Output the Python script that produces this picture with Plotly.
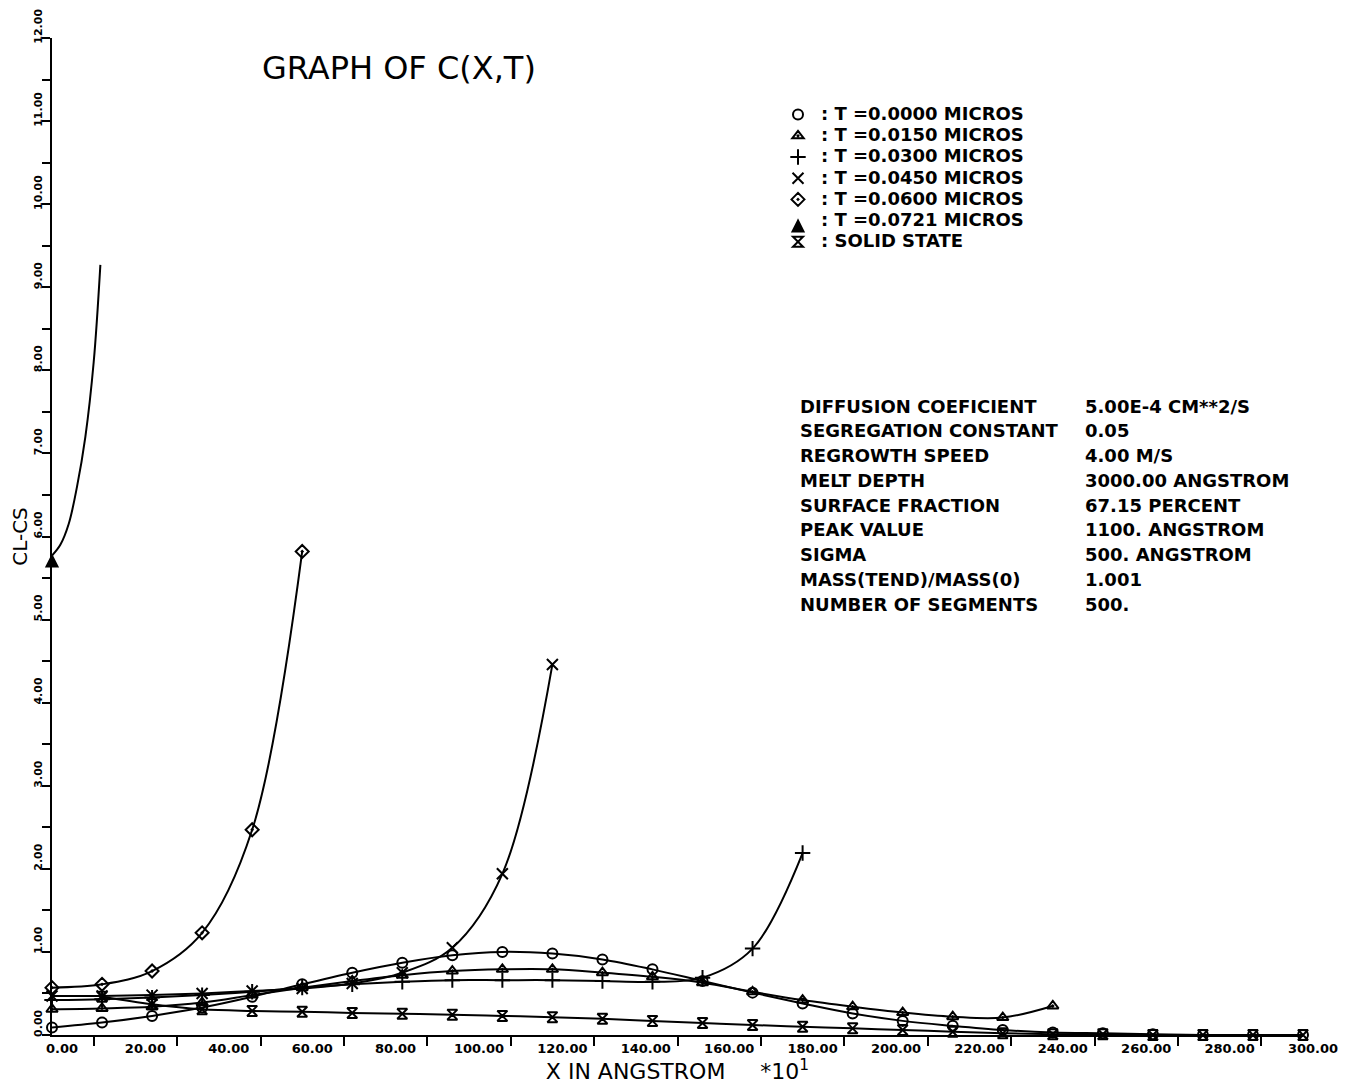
import plotly.graph_objects as go

# ---------------- data ----------------
X_MARK = [0, 12, 24, 36, 48, 60, 72, 84, 96, 108, 120, 132, 144, 156, 168,
          180, 192, 204, 216, 228, 240, 252, 264, 276, 288, 300]

# T = 0.0000 micros (circle), x = 0 .. 300
Y_T0000 = [0.09, 0.15, 0.23, 0.33, 0.46, 0.61, 0.75, 0.87, 0.96, 1.00, 0.98,
           0.91, 0.79, 0.65, 0.51, 0.38, 0.26, 0.17, 0.11, 0.06, 0.03, 0.02,
           0.01, 0.00, 0.00, 0.00]
# T = 0.0150 micros (triangle), x = 0 .. 240
Y_T0150 = [0.31, 0.32, 0.34, 0.39, 0.48, 0.57, 0.65, 0.72, 0.77, 0.79, 0.79,
           0.75, 0.70, 0.63, 0.52, 0.42, 0.34, 0.27, 0.22, 0.21, 0.35]
# T = 0.0300 micros (plus), x = 0 .. 180
Y_T0300 = [0.42, 0.43, 0.45, 0.48, 0.52, 0.57, 0.61, 0.64, 0.66, 0.66, 0.66,
           0.65, 0.64, 0.69, 1.04, 2.19]
# T = 0.0450 micros (x), x = 0 .. 120
Y_T0450 = [0.47, 0.47, 0.48, 0.50, 0.53, 0.56, 0.62, 0.75, 1.05, 1.94, 4.46]
# T = 0.0600 micros (diamond), x = 0 .. 60
Y_T0600 = [0.57, 0.61, 0.77, 1.23, 2.47, 5.82]
# T = 0.0721 micros (arrow), curve x = 0 .. 11.6, marker only at x = 0
X_T0721 = [0, 2, 4, 6, 8, 10, 11.6]
Y_T0721 = [5.77, 5.90, 6.15, 6.60, 7.20, 8.10, 9.27]
X_T0721_MARK = [0]
Y_T0721_MARK = [5.77]
# solid state (hourglass), x = 12 .. 300
Y_SOLID = [0.46, 0.37, 0.31, 0.29, 0.28, 0.265, 0.255, 0.245, 0.23, 0.215,
           0.195, 0.17, 0.145, 0.12, 0.10, 0.08, 0.06, 0.04, 0.02, 0.01,
           0.01, 0.00, 0.00, 0.00, 0.00]

SERIES_NAMES = [": T =0.0000 MICROS", ": T =0.0150 MICROS", ": T =0.0300 MICROS",
                ": T =0.0450 MICROS", ": T =0.0600 MICROS", ": T =0.0721 MICROS",
                ": SOLID STATE"]

X_TICKS = [0, 20, 40, 60, 80, 100, 120, 140, 160, 180, 200, 220, 240, 260, 280, 300]
X_TICK_TEXT = ["0.00", "20.00", "40.00", "60.00", "80.00", "100.00", "120.00",
               "140.00", "160.00", "180.00", "200.00", "220.00", "240.00",
               "260.00", "280.00", "300.00"]
X_MINOR = [10, 30, 50, 70, 90, 110, 130, 150, 170, 190, 210, 230, 250, 270, 290]
Y_TICKS = [0, 1, 2, 3, 4, 5, 6, 7, 8, 9, 10, 11, 12]
Y_TICK_TEXT = ["0.00", "1.00", "2.00", "3.00", "4.00", "5.00", "6.00", "7.00",
               "8.00", "9.00", "10.00", "11.00", "12.00"]
Y_MINOR = [0.5, 1.5, 2.5, 3.5, 4.5, 5.5, 6.5, 7.5, 8.5, 9.5, 10.5, 11.5]

PARAM_LABELS = ["DIFFUSION COEFICIENT", "SEGREGATION CONSTANT", "REGROWTH SPEED",
                "MELT DEPTH", "SURFACE FRACTION", "PEAK VALUE", "SIGMA",
                "MASS(TEND)/MASS(0)", "NUMBER OF SEGMENTS"]
PARAM_VALUES = ["5.00E-4 CM**2/S", "0.05", "4.00 M/S", "3000.00 ANGSTROM",
                "67.15 PERCENT", "1100. ANGSTROM", "500. ANGSTROM", "1.001", "500."]

# ---------------- figure ----------------
# the page body has an 8 px margin, so the figure is 8 px smaller each way
W, H = 1342, 1078
ML, MR, MT, MB = 44, 47, 30, 51
PW, PH = W - ML - MR, H - MT - MB
FONT = "DejaVu Sans"


def px_x(p):  # figure pixel -> paper x
    return (p - ML) / PW


def px_y(p):  # figure pixel -> paper y
    return (H - MB - p) / PH


series = [
    (X_MARK[:len(Y_T0000)], Y_T0000, X_MARK[:len(Y_T0000)], Y_T0000, "circle-open", 10),
    (X_MARK[:len(Y_T0150)], Y_T0150, X_MARK[:len(Y_T0150)], Y_T0150, "triangle-up-open-dot", 10),
    (X_MARK[:len(Y_T0300)], Y_T0300, X_MARK[:len(Y_T0300)], Y_T0300, "cross-thin-open", 11),
    (X_MARK[:len(Y_T0450)], Y_T0450, X_MARK[:len(Y_T0450)], Y_T0450, "x-thin-open", 11),
    (X_MARK[:len(Y_T0600)], Y_T0600, X_MARK[:len(Y_T0600)], Y_T0600, "diamond-open-dot", 10),
    (X_T0721, Y_T0721, X_T0721_MARK, Y_T0721_MARK, "arrow-up", 11),
    (X_MARK[1:1 + len(Y_SOLID)], Y_SOLID, X_MARK[1:1 + len(Y_SOLID)], Y_SOLID, "hourglass-open", 10),
]

fig = go.Figure()
for (lx, ly, mx, my, sym, sz), name in zip(series, SERIES_NAMES):
    fig.add_trace(go.Scatter(x=lx, y=ly, mode="lines", showlegend=False,
                             line=dict(color="black", width=2, shape="spline", smoothing=1),
                             hoverinfo="skip"))
for (lx, ly, mx, my, sym, sz), name in zip(series, SERIES_NAMES):
    # legend rows are spaced by the 14 px legend font; the label itself is drawn larger
    fig.add_trace(go.Scatter(x=mx, y=my, mode="markers", cliponaxis=False,
                             name='<span style="font-size:18px">' + name + "</span>",
                             marker=dict(symbol=sym, size=sz, color="black",
                                         line=dict(color="black", width=2))))

annotations = []
for i, (lab, val) in enumerate(zip(PARAM_LABELS, PARAM_VALUES)):
    py = 398 + i * 24.75
    annotations.append(dict(x=px_x(790), y=px_y(py), xref="paper", yref="paper",
                            text=lab, showarrow=False, xanchor="left", yanchor="middle",
                            font=dict(family=FONT, size=18, color="black", weight="bold")))
    annotations.append(dict(x=px_x(1075), y=px_y(py), xref="paper", yref="paper",
                            text=val, showarrow=False, xanchor="left", yanchor="middle",
                            font=dict(family=FONT, size=18, color="black", weight="bold")))

fig.update_layout(
    width=W, height=H,
    margin=dict(l=ML, r=MR, t=MT, b=MB, autoexpand=False),
    paper_bgcolor="white", plot_bgcolor="white",
    title=dict(text="GRAPH OF C(X,T)", xref="container", yref="container",
               x=254 / W, y=1 - 60 / H, xanchor="left", yanchor="middle",
               font=dict(family=FONT, size=32, color="black")),
    showlegend=True,
    legend=dict(x=px_x(767), y=px_y(91), xanchor="left", yanchor="top",
                xref="paper", yref="paper", itemwidth=36, bgcolor="rgba(0,0,0,0)",
                borderwidth=0, tracegroupgap=0, itemclick=False,
                font=dict(family=FONT, size=14, color="black", weight="bold")),
    annotations=annotations,
    xaxis=dict(range=[0, 300], showline=True, linecolor="black", linewidth=2,
               showgrid=False, zeroline=False, ticks="", tickmode="array",
               tickvals=X_TICKS, ticktext=X_TICK_TEXT, ticklabelshift=10,
               tickfont=dict(family=FONT, size=13, color="black", weight="bold"),
               minor=dict(tickmode="array", tickvals=X_MINOR, ticks="outside",
                          ticklen=9, tickwidth=2, tickcolor="black", showgrid=False),
               title=dict(text="X IN ANGSTROM\u00a0\u00a0\u00a0\u00a0\u00a0*10<sup>1</sup>"
                               "\u00a0\u00a0\u00a0\u00a0\u00a0\u00a0\u00a0\u00a0",
                          standoff=0,
                          font=dict(family=FONT, size=22, color="black")),
               automargin=False),
    yaxis=dict(range=[0, 12], showline=True, linecolor="black", linewidth=2,
               showgrid=False, zeroline=False, ticks="outside", ticklen=8, tickwidth=2,
               tickcolor="black", tickmode="array", tickvals=Y_TICKS, ticktext=Y_TICK_TEXT,
               tickangle=-90, ticklabelshift=-10, ticklabelstandoff=-4,
               tickfont=dict(family=FONT, size=11, color="black", weight="bold"),
               minor=dict(tickmode="array", tickvals=Y_MINOR, ticks="outside",
                          ticklen=8, tickwidth=2, tickcolor="black", showgrid=False),
               title=dict(text="CL-CS", standoff=6,
                          font=dict(family=FONT, size=20, color="black")),
               automargin=False),
)

fig.write_html("out.html")
